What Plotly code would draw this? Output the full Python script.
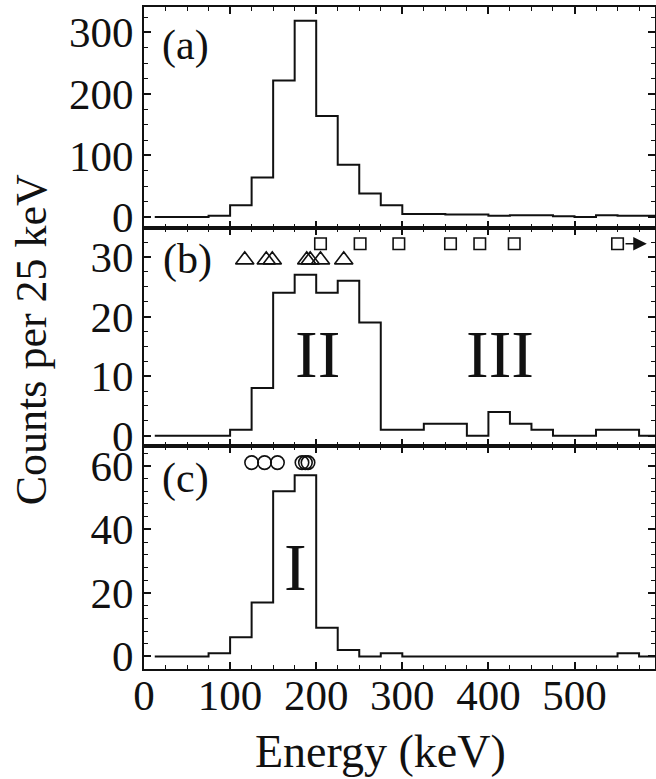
import plotly.graph_objects as go

# ---------------- data ----------------
bin_width = 25
bin_left = [i * bin_width for i in range(24)]           # 0 .. 575 keV
plot_start = 12.5                                        # first drawn point of each histogram

counts_a = [0, 0, 0, 2, 19, 64, 222, 319, 164, 85, 38, 19, 5, 5, 4, 4, 2, 3, 3, 1, 0, 3, 2, 2]
counts_b = [0, 0, 0, 0, 1, 8, 24, 27, 24, 26, 19, 1, 1, 2, 2, 0, 4, 2, 1, 0, 0, 1, 1, 0]
counts_c = [0, 0, 0, 1, 6, 17, 52, 57, 9, 2, 0, 1, 0, 0, 0, 0, 0, 0, 0, 0, 0, 0, 1, 0]

triangle_energies = [117, 142, 149, 189, 193, 205, 232]
triangle_level = 29.5
square_energies = [205, 251, 296, 356, 390, 430, 550]
square_level = 32.2
circle_energies = [125, 140, 155, 183.5, 187.5, 190.5]
circle_level = 61

x_ticks = [0, 100, 200, 300, 400, 500]
y_ticks_a = [0, 100, 200, 300]
y_ticks_b = [0, 10, 20, 30]
y_ticks_c = [0, 20, 40, 60]

panel_labels = ["(a)", "(b)", "(c)"]
region_labels = [("II", 201, 13.7, "b"), ("III", 413.5, 13.7, "b"), ("I", 176.5, 28.2, "c")]

# ---------------- layout geometry (pixels) ----------------
W, H = 656, 779
L, R = 143.5, 655.0
T, B = 7.3, 669.3
y_ab, y_bc = 228.3, 446.7
PW, PH = R - L, B - T


def px_x(px):
    return (px - L) / PW


def px_y(py):
    return (B - py) / PH


FONT = "Liberation Serif, Times New Roman, serif"
BLACK = "#111111"


def steps(counts):
    xs = [max(e, plot_start) for e in bin_left] + [bin_left[-1] + bin_width]
    ys = list(counts) + [counts[-1]]
    return xs, ys


fig = go.Figure()

for cnt, xa, ya in [(counts_a, "x", "y"), (counts_b, "x2", "y2"), (counts_c, "x3", "y3")]:
    xs, ys = steps(cnt)
    fig.add_trace(go.Scatter(x=xs, y=ys, mode="lines", line=dict(shape="hv", color=BLACK, width=2),
                             xaxis=xa, yaxis=ya, showlegend=False, hoverinfo="skip"))

fig.add_trace(go.Scatter(x=triangle_energies, y=[triangle_level] * len(triangle_energies), mode="markers",
                         marker=dict(symbol="triangle-up-open", size=16, color=BLACK, line=dict(width=1.6, color=BLACK)),
                         xaxis="x2", yaxis="y2", showlegend=False))
fig.add_trace(go.Scatter(x=square_energies, y=[square_level] * len(square_energies), mode="markers",
                         marker=dict(symbol="square-open", size=11.5, color=BLACK, line=dict(width=1.6, color=BLACK)),
                         xaxis="x2", yaxis="y2", showlegend=False))
fig.add_trace(go.Scatter(x=circle_energies, y=[circle_level] * len(circle_energies), mode="markers",
                         marker=dict(symbol="circle-open", size=13.5, color=BLACK, line=dict(width=1.6, color=BLACK)),
                         xaxis="x3", yaxis="y3", showlegend=False))

x_range = [0, 593.5]
common_x = dict(range=x_range, showline=True, linecolor=BLACK, linewidth=2, mirror="ticks",
                ticks="inside", ticklen=7, tickwidth=1.6, tickcolor=BLACK, tickvals=x_ticks,
                showgrid=False, zeroline=False, automargin=False,
                minor=dict(dtick=25, ticks="inside", ticklen=4, tickwidth=1.4, tickcolor=BLACK, showgrid=False),
                tickfont=dict(family=FONT, size=43, color=BLACK))
common_y = dict(showline=True, linecolor=BLACK, linewidth=2, mirror="ticks",
                ticks="inside", ticklen=7, tickwidth=1.6, tickcolor=BLACK,
                showgrid=False, zeroline=False, automargin=False,
                tickfont=dict(family=FONT, size=43, color=BLACK), ticklabelstandoff=0)

dom_a = [px_y(y_ab), 1.0]
dom_b = [px_y(y_bc), px_y(y_ab)]
dom_c = [0.0, px_y(y_bc)]

fig.update_layout(
    width=W, height=H,
    margin=dict(l=L, r=W - R, t=T, b=H - B),
    paper_bgcolor="white", plot_bgcolor="white",
    font=dict(family=FONT, color=BLACK),
    xaxis=dict(common_x, anchor="y", showticklabels=False),
    xaxis2=dict(common_x, anchor="y2", matches="x", showticklabels=False),
    xaxis3=dict(common_x, anchor="y3", matches="x", showticklabels=True, ticklabelstandoff=-13),
    yaxis=dict(common_y, domain=dom_a, anchor="x", range=[-17.9, 341.3], tickvals=y_ticks_a,
               minor=dict(dtick=25, ticks="inside", ticklen=4, tickwidth=1.4, tickcolor=BLACK, showgrid=False)),
    yaxis2=dict(common_y, domain=dom_b, anchor="x2", range=[-1.79, 34.85], tickvals=y_ticks_b,
                minor=dict(dtick=2.5, ticks="inside", ticklen=4, tickwidth=1.4, tickcolor=BLACK, showgrid=False)),
    yaxis3=dict(common_y, domain=dom_c, anchor="x3", range=[-3.96, 66.1], tickvals=y_ticks_c,
                minor=dict(dtick=4, ticks="inside", ticklen=4, tickwidth=1.4, tickcolor=BLACK, showgrid=False)),
)

# panel labels
for lab, (cx, cy) in zip(panel_labels, [(185, 45.5), (186.7, 260), (185, 478.5)]):
    fig.add_annotation(text=lab, x=px_x(cx), y=px_y(cy), xref="paper", yref="paper",
                       xanchor="center", yanchor="middle", showarrow=False,
                       font=dict(family=FONT, size=42, color=BLACK))

# region labels
for lab, ex, ey, p in region_labels:
    fig.add_annotation(text=lab, x=ex, y=ey, xref="x2" if p == "b" else "x3", yref="y2" if p == "b" else "y3",
                       xanchor="center", yanchor="middle", showarrow=False,
                       font=dict(family=FONT, size=68, color=BLACK))

# arrow from the last square
fig.add_annotation(x=584, y=square_level, ax=557.5, ay=square_level, xref="x2", yref="y2",
                   axref="x2", ayref="y2", text="", showarrow=True, arrowhead=2, arrowsize=1.7,
                   arrowwidth=1.6, arrowcolor=BLACK, standoff=0, startstandoff=0)

# axis titles
fig.add_annotation(text="Counts per 25 keV", x=px_x(31), y=px_y(340), xref="paper", yref="paper",
                   textangle=-90, showarrow=False, xanchor="center", yanchor="middle",
                   font=dict(family=FONT, size=44, color=BLACK))
fig.add_annotation(text="Energy (keV)", x=px_x(380.5), y=px_y(752), xref="paper", yref="paper",
                   showarrow=False, xanchor="center", yanchor="middle",
                   font=dict(family=FONT, size=46, color=BLACK))

fig.write_html("out.html", config={"displayModeBar": False},
               post_script="document.body.style.margin='0';document.body.style.overflow='hidden';")
